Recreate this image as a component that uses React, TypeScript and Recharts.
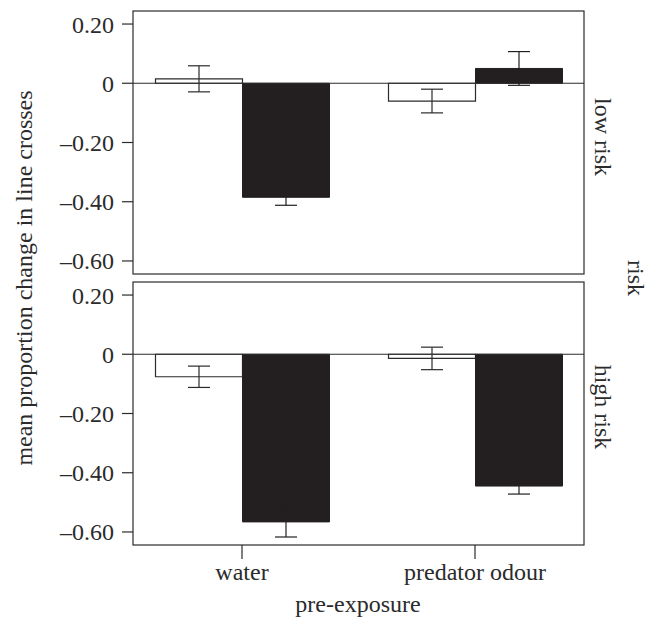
import React from 'react';
import { BarChart, Bar, XAxis, YAxis, ErrorBar, ReferenceLine } from 'recharts';

// pre-exposure groups on the x axis
const categories = ['water', 'predator odour'];

// low risk panel (top)
const lowOpenMean = [0.015, -0.06];
const lowOpenErr = [0.044, 0.04];
const lowSolidMean = [-0.385, 0.05];
const lowSolidErr = [0.027, 0.057];

// high risk panel (bottom)
const highOpenMean = [-0.076, -0.014];
const highOpenErr = [0.036, 0.038];
const highSolidMean = [-0.566, -0.445];
const highSolidErr = [0.051, 0.027];

const yTicks = [0.2, 0, -0.2, -0.4, -0.6];
const yDomain: [number, number] = [-0.644, 0.244];

const FONT = '"Liberation Serif", "DejaVu Serif", serif';
const INK = '#2b2b2b';
const SOLID = '#231f20';

const buildRows = (openMean: number[], openErr: number[], solidMean: number[], solidErr: number[]) =>
  categories.map((c, i) => ({
    group: c,
    open: openMean[i],
    openErr: openErr[i],
    solid: solidMean[i],
    solidErr: solidErr[i],
  }));

const lowRows = buildRows(lowOpenMean, lowOpenErr, lowSolidMean, lowSolidErr);
const highRows = buildRows(highOpenMean, highOpenErr, highSolidMean, highSolidErr);

const fmt = (v: number) => (v === 0 ? '0' : v < 0 ? '\u2013' + Math.abs(v).toFixed(2) : v.toFixed(2));

const tickStyle = { fill: INK, fontSize: 24, fontFamily: FONT };

function Panel({ rows, showX, height, margin }: { rows: any[]; showX: boolean; height: number; margin: any }) {
  return (
    <BarChart width={659} height={height} data={rows} margin={margin} barCategoryGap={30} barGap={0}>
      <XAxis
        dataKey="group"
        hide={!showX}
        height={40}
        padding={{ left: -7.5, right: -7.5 }}
        axisLine={false}
        tickLine={{ stroke: INK, strokeWidth: 1.2 }}
        tickSize={14}
        tickMargin={4}
        tick={tickStyle}
      />
      <YAxis
        width={133}
        domain={yDomain}
        ticks={yTicks}
        allowDataOverflow
        tickFormatter={fmt}
        axisLine={false}
        tickLine={{ stroke: INK, strokeWidth: 1.2 }}
        tickSize={11}
        tickMargin={8}
        tick={tickStyle}
      />
      <ReferenceLine y={0} stroke={INK} strokeWidth={1.2} />
      <Bar dataKey="open" fill="#ffffff" stroke={INK} strokeWidth={1.2} isAnimationActive={false}>
        <ErrorBar dataKey="openErr" width={11} stroke={INK} strokeWidth={1.2} direction="y" />
      </Bar>
      <Bar dataKey="solid" fill={SOLID} stroke={SOLID} strokeWidth={1} isAnimationActive={false}>
        <ErrorBar dataKey="solidErr" width={11} stroke={SOLID} strokeWidth={1.2} direction="y" />
      </Bar>
    </BarChart>
  );
}

export default function App() {
  return (
    <div style={{ position: 'absolute', left: 0, top: 0, width: 659, height: 619, background: '#fff' }}>
      <div style={{ position: 'absolute', left: 0, top: 0 }}>
        <Panel rows={lowRows} showX={false} height={280} margin={{ top: 11, right: 75, bottom: 6, left: 0 }} />
      </div>
      <div style={{ position: 'absolute', left: 0, top: 271 }}>
        <Panel rows={highRows} showX={true} height={348} margin={{ top: 11, right: 75, bottom: 34, left: 0 }} />
      </div>
      <svg
        width={659}
        height={619}
        style={{ position: 'absolute', left: 0, top: 0, pointerEvents: 'none' }}
        fontFamily={FONT}
        fill={INK}
      >
        <rect x={133} y={11} width={451} height={263} fill="none" stroke={INK} strokeWidth={1.2} />
        <rect x={133} y={282} width={451} height={263} fill="none" stroke={INK} strokeWidth={1.2} />
        <text
          x={24}
          y={278}
          fontSize={24}
          textAnchor="middle"
          dominantBaseline="central"
          transform="rotate(-90 24 278)"
        >
          mean proportion change in line crosses
        </text>
        <text x={603} y={137} fontSize={24} textAnchor="middle" dominantBaseline="central" transform="rotate(90 603 137)">
          low risk
        </text>
        <text x={603} y={407} fontSize={24} textAnchor="middle" dominantBaseline="central" transform="rotate(90 603 407)">
          high risk
        </text>
        <text x={636} y={278} fontSize={24} textAnchor="middle" dominantBaseline="central" transform="rotate(90 636 278)">
          risk
        </text>
        <text x={358} y={604} fontSize={24} textAnchor="middle" dominantBaseline="central">
          pre-exposure
        </text>
      </svg>
    </div>
  );
}
